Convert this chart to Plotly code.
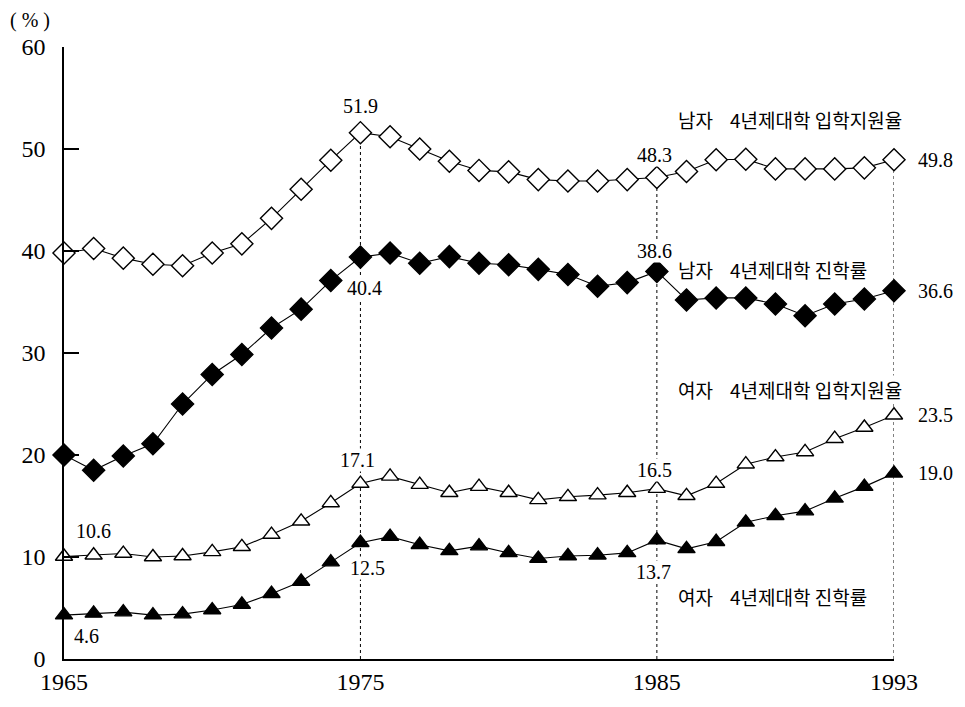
import plotly.graph_objects as go

years = list(range(1965, 1994))

male_apply = [39.8, 40.25, 39.3, 38.7, 38.55, 39.8, 40.7, 43.2, 46.05, 48.9,
              51.6, 51.2, 50.0, 48.8, 47.9, 47.76, 47.0, 46.86, 46.86, 47.0,
              47.2, 47.8, 48.95, 49.0, 48.05, 48.05, 48.05, 48.15, 48.95]
male_enter = [20.0, 18.5, 19.9, 21.1, 25.0, 27.9, 29.85, 32.45, 34.3, 37.1,
              39.4, 39.8, 38.8, 39.45, 38.8, 38.65, 38.2, 37.7, 36.55, 36.9,
              38.0, 35.2, 35.4, 35.4, 34.8, 33.65, 34.8, 35.3, 36.1]
female_apply = [10.05, 10.17, 10.34, 10.0, 10.1, 10.5, 11.0, 12.2, 13.5, 15.3,
                17.2, 17.9, 17.1, 16.3, 16.9, 16.3, 15.6, 15.9, 16.07, 16.3,
                16.7, 16.0, 17.2, 19.1, 19.8, 20.3, 21.6, 22.7, 23.9]
female_enter = [4.3, 4.47, 4.6, 4.3, 4.4, 4.8, 5.35, 6.4, 7.6, 9.5,
                11.4, 12.0, 11.2, 10.6, 11.07, 10.4, 9.85, 10.1, 10.17, 10.4,
                11.65, 10.8, 11.5, 13.4, 14.04, 14.5, 15.75, 16.9, 18.2]

NB = "\u00a0"
series_names = ["남자" + NB * 4 + "4년제대학" + NB + "입학지원율",
                "남자" + NB * 4 + "4년제대학" + NB + "진학률",
                "여자" + NB * 4 + "4년제대학" + NB + "입학지원율",
                "여자" + NB * 4 + "4년제대학" + NB + "진학률"]

# value labels: (series index, year, text)
value_labels = [
    (0, 1975, "51.9"), (0, 1985, "48.3"), (0, 1993, "49.8"),
    (1, 1975, "40.4"), (1, 1985, "38.6"), (1, 1993, "36.6"),
    (2, 1965, "10.6"), (2, 1975, "17.1"), (2, 1985, "16.5"), (2, 1993, "23.5"),
    (3, 1965, "4.6"), (3, 1975, "12.5"), (3, 1985, "13.7"), (3, 1993, "19.0"),
]
x_ticks = [1965, 1975, 1985, 1993]
y_ticks = [0, 10, 20, 30, 40, 50, 60]

all_series = [male_apply, male_enter, female_apply, female_enter]
styles = [
    dict(symbol="diamond", size=17, color="white"),
    dict(symbol="diamond", size=17, color="black"),
    dict(symbol="triangle-up", size=15, color="white"),
    dict(symbol="triangle-up", size=15, color="black"),
]

SERIF = "Liberation Serif, Noto Sans CJK KR, serif"
KFONT = "Noto Sans CJK KR, Liberation Serif"

fig = go.Figure()
for vals, st, name in zip(all_series, styles, series_names):
    fig.add_trace(go.Scatter(
        x=years, y=vals, mode="lines+markers", name=name,
        line=dict(color="black", width=1.1),
        marker=dict(symbol=st["symbol"], size=st["size"], color=st["color"],
                    line=dict(color="black", width=1.4)),
        cliponaxis=False, showlegend=False))

# dotted guide lines
for yr in [1975, 1985, 1993]:
    i = years.index(yr)
    fig.add_shape(type="line", x0=yr, x1=yr, y0=0, y1=male_apply[i],
                  line=dict(color="black", width=1, dash="dot"), layer="below")

# offsets (px) of each value label relative to its marker
offsets = {
    (0, 1975): (0, -27), (0, 1985): (-2, -23), (0, 1993): (41, 0),
    (1, 1975): (4, 31), (1, 1985): (-2, -20), (1, 1993): (41, 0),
    (2, 1965): (29, -25), (2, 1975): (-3, -24), (2, 1985): (-2, -19), (2, 1993): (41, 0),
    (3, 1965): (22, 21), (3, 1975): (7, 25), (3, 1985): (-3, 32), (3, 1993): (41, 0),
}
for si, yr, txt in value_labels:
    dx, dy = offsets[(si, yr)]
    fig.add_annotation(x=yr, y=all_series[si][years.index(yr)], text=txt,
                       showarrow=False, xshift=dx, yshift=-dy,
                       font=dict(family=SERIF, size=20, color="black"),
                       bgcolor="white", borderpad=0)

# series labels
label_pos = [(1985.67, 52.9), (1985.67, 38.16), (1985.67, 26.4), (1985.67, 6.1)]
for (lx, ly), name in zip(label_pos, series_names):
    fig.add_annotation(x=lx, y=ly, text=name, showarrow=False, xanchor="left",
                       font=dict(family=KFONT, size=19, color="black"),
                       bgcolor="white", borderpad=0)

fig.add_annotation(x=-0.041, y=1.044, xref="paper", yref="paper", text="( % )",
                   showarrow=False, xanchor="center", yanchor="middle",
                   font=dict(family=SERIF, size=20, color="black"))

fig.update_layout(
    width=957, height=699,
    margin=dict(l=56, r=71, t=39, b=39),
    paper_bgcolor="white", plot_bgcolor="white",
    xaxis=dict(range=[1965, 1993], tickvals=x_ticks, ticktext=[str(t) for t in x_ticks],
               showline=True, linecolor="black", linewidth=1.5, ticks="",
               showgrid=False, zeroline=False,
               tickfont=dict(family=SERIF, size=24, color="black")),
    yaxis=dict(range=[0, 60], tickvals=y_ticks,
               showline=True, linecolor="black", linewidth=1.5,
               ticks="inside", ticklen=15, tickwidth=1.5, tickcolor="black",
               showgrid=False, zeroline=False, ticklabelstandoff=12,
               tickfont=dict(family=SERIF, size=24, color="black")),
)

fig.write_html("out.html")
